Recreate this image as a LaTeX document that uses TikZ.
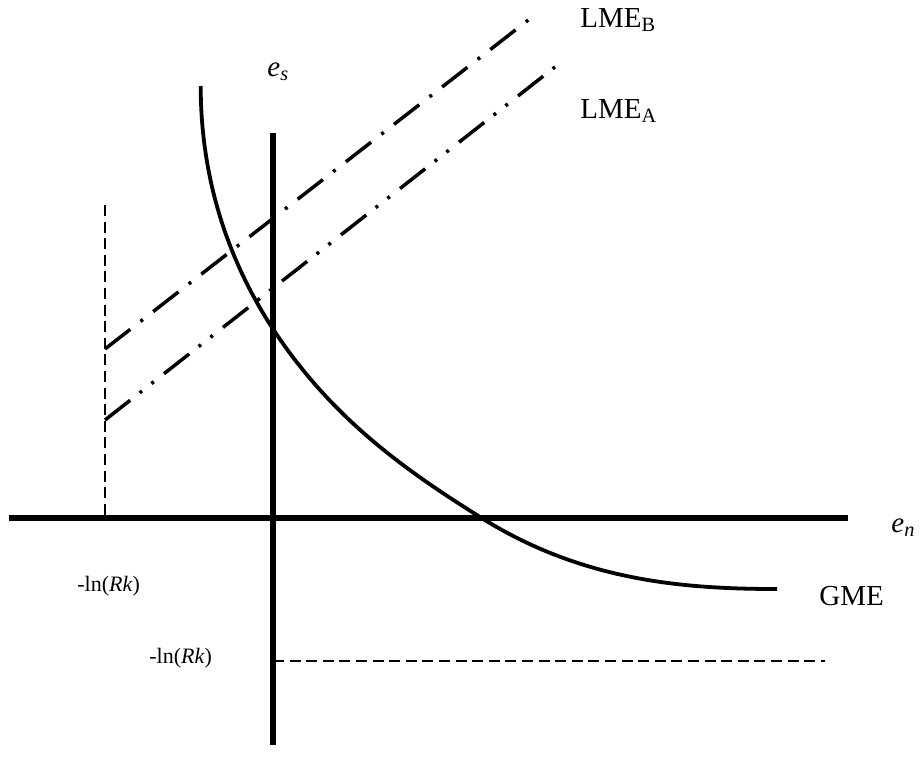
\documentclass[tikz,border=0pt]{standalone}
\usepackage{fontspec}
\setmainfont{Liberation Serif}
\begin{document}
\begin{tikzpicture}[x=0.5pt,y=-0.5pt,
  axis/.style={line width=3.2pt},
  gme/.style={line width=1.9pt},
  lmeb/.style={line width=1.75pt,dash pattern=on 16pt off 6.5pt on 1.5pt off 6.5pt},
  lmea/.style={line width=1.75pt,dash pattern=on 16pt off 6pt on 1.5pt off 6pt on 1.5pt off 6.5pt},
  guide/.style={line width=1.3pt,dash pattern=on 5.5pt off 2.8pt},
  lbl/.style={inner sep=0pt,anchor=base west,font=\fontsize{14.5}{17}\selectfont},
  small/.style={inner sep=0pt,anchor=base west,font=\fontsize{11}{13}\selectfont}]
\useasboundingbox (0,0) rectangle (920,756);
% axes
\coordinate (xl) at (9,518);
\coordinate (xr) at (848,518);
\coordinate (yt) at (273,133);
\coordinate (yb) at (273,745);
\draw[axis] (xl) -- (xr);
\draw[axis] (yt) -- (yb);
% guides
\coordinate (vt) at (105,205);
\coordinate (vb) at (105,518);
\draw[guide] (vt) -- (vb);
\coordinate (hl) at (273,661);
\coordinate (hr) at (825,661);
\draw[guide] (hl) -- (hr);
% LME lines
\coordinate (b0) at (105,349);
\coordinate (b1) at (536,14);
\coordinate (a0) at (105,420);
\coordinate (a1) at (560,63);
\draw[lmeb] (b0) -- (b1);
\draw[lmea] (a0) -- (a1);
% GME curve
\coordinate (g0) at (200.7,86);
\coordinate (g1) at (275,332);
\coordinate (g2) at (480,517);
\coordinate (g3) at (777,589);
\draw[gme] (g0) .. controls (200.7,190) and (235,272) .. (g1)
  .. controls (335,422) and (410,473) .. (g2)
  .. controls (580,580) and (680,589) .. (g3);
% labels
\node[lbl] (es) at (267,76) {\textit{e}\textsubscript{\textit{s}}};
\node[lbl] (en) at (891,532) {\textit{e}\textsubscript{\textit{n}}};
\node[lbl] (lb) at (580,27) {LME\textsubscript{B}};
\node[lbl] (la) at (580,118) {LME\textsubscript{A}};
\node[lbl] (g) at (819,605) {GME};
\node[small] (r1) at (77,591) {-ln(\textit{Rk})};
\node[small] (r2) at (149,663) {-ln(\textit{Rk})};
\end{tikzpicture}
\end{document}
